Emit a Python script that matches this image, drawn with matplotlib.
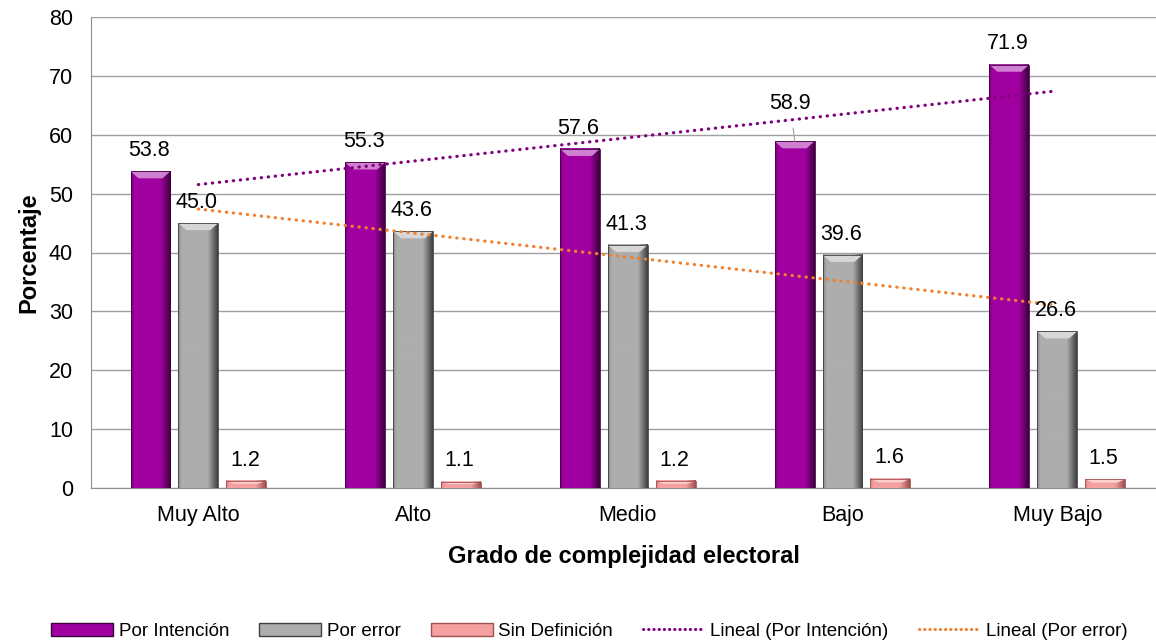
import matplotlib
matplotlib.use("Agg")
import matplotlib.pyplot as plt
from matplotlib.patches import Patch, Polygon
from matplotlib.lines import Line2D
import matplotlib.colors as mcolors
import numpy as np

plt.rcParams['font.family'] = ['Liberation Sans', 'DejaVu Sans']

# data
categorias = ["Muy Alto", "Alto", "Medio", "Bajo", "Muy Bajo"]
por_intencion = [53.8, 55.3, 57.6, 58.9, 71.9]
por_error = [45.0, 43.6, 41.3, 39.6, 26.6]
sin_definicion = [1.2, 1.1, 1.2, 1.6, 1.5]
series_names = ["Por Intención", "Por error", "Sin Definición"]

colores = ["#a000a0", "#adadad", "#f4a0a0"]
oscuros = ["#400040", "#404040", "#a05050"]
tendencia_col = ["#800080", "#f08030"]


def bar3d(ax, x, h, w, base, dark):
    # horizontal gradient to fake the bevel look
    c1 = np.array(mcolors.to_rgb(base))
    c2 = np.array(mcolors.to_rgb(dark))
    t = np.linspace(0, 1, 60)
    prof = np.where(t < 0.08, 0.35 * (1 - t / 0.08), 0.0)
    prof = prof + np.where(t > 0.75, (t - 0.75) / 0.25, 0.0)
    grad = c1[None, :] * (1 - prof[:, None]) + c2[None, :] * prof[:, None]
    ax.imshow(grad[None, :, :], extent=(x - w / 2, x + w / 2, 0, h),
              aspect="auto", zorder=3, interpolation="bilinear")
    # top bevel highlight
    bev = min(1.2, h * 0.4)
    light = c1 * 0.5 + 0.5
    ax.add_patch(Polygon([(x - w / 2, h), (x + w / 2, h),
                          (x + w / 2 - w * 0.2, h - bev), (x - w / 2 + w * 0.2, h - bev)],
                         closed=True, facecolor=light, edgecolor="none", zorder=4))
    ax.add_patch(Polygon([(x - w / 2, h), (x + w / 2, h), (x + w / 2, 0), (x - w / 2, 0)],
                         closed=True, facecolor="none", edgecolor=dark, lw=0.6, zorder=4))


fig = plt.figure(figsize=(11.56, 6.43), dpi=100)
ax = fig.add_axes([91 / 1156, 1 - 488 / 643, 1 - 91 / 1156, (488 - 17) / 643])

x = np.arange(len(categorias))
w = 0.186
off = 0.223
datos = [por_intencion, por_error, sin_definicion]

for i, vals in enumerate(datos):
    for xi, v in zip(x, vals):
        bar3d(ax, xi + (i - 1) * off, v, w, colores[i], oscuros[i])
        if i == 0 and xi == 3:
            ax.annotate(f"{v:.1f}", (xi + (i - 1) * off, v), xytext=(-3, 27),
                        textcoords="offset points", ha="center", va="center",
                        fontsize=15.5, zorder=6,
                        arrowprops=dict(arrowstyle="-", color="#a0a0a0", lw=0.8,
                                        shrinkA=8, shrinkB=0))
        else:
            ax.annotate(f"{v:.1f}", (xi + (i - 1) * off, v), xytext=(-1, 15),
                        textcoords="offset points", ha="center", va="center",
                        fontsize=15.5, zorder=6)

# linear trend lines
for vals, col in zip([por_intencion, por_error], tendencia_col):
    p = np.polyfit(x, vals, 1)
    ax.plot(x, np.polyval(p, x), linestyle=(0, (0.1, 2.1)), color=col, lw=2.3,
            zorder=5, dash_capstyle="round")

ax.set_xlim(-0.5, 4.5 - 0.04)
ax.set_ylim(0, 80)
ax.set_yticks(range(0, 81, 10))
ax.set_xticks(x)
ax.set_xticklabels(categorias)
ax.yaxis.grid(True, color="#a0a0a0", lw=1)
ax.set_axisbelow(True)
for s in ["top", "right"]:
    ax.spines[s].set_visible(False)
ax.spines["left"].set_color("#909090")
ax.spines["bottom"].set_color("#909090")
ax.tick_params(axis="x", length=0, pad=12, labelsize=15.5)
ax.tick_params(axis="y", length=0, labelsize=15.5, pad=13)
ax.set_ylabel("Porcentaje", fontsize=17, fontweight="bold", labelpad=6)
ax.set_xlabel("Grado de complejidad electoral", fontsize=17, fontweight="bold",
              labelpad=14)

handles = [Patch(facecolor=colores[i], edgecolor=oscuros[i]) for i in range(3)]
handles += [Line2D([0], [0], color=c, lw=2.2, linestyle=(0, (0.1, 1.6)),
                   dash_capstyle="round") for c in tendencia_col]
labels = series_names + ["Lineal (Por Intención)", "Lineal (Por error)"]
fig.legend(handles, labels, loc="center", bbox_to_anchor=(0.51, 0.018), ncol=5,
           frameon=False, fontsize=13.5, handlelength=3.3, handleheight=0.7,
           columnspacing=1.6, handletextpad=0.3)

fig.savefig("out.png", dpi=100)
